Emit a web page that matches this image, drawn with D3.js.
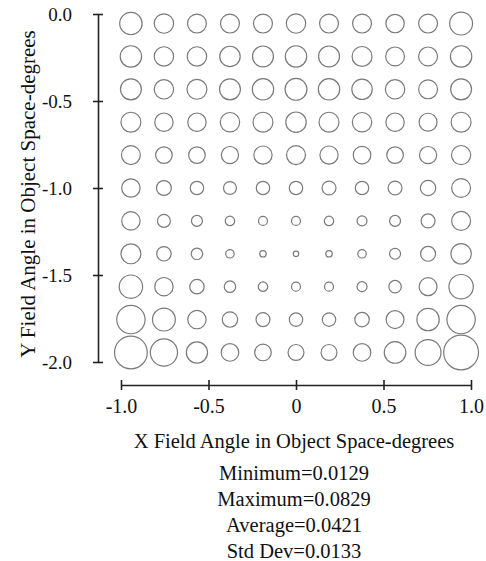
<!DOCTYPE html>
<html>
<head>
<meta charset="utf-8">
<script src="https://cdn.jsdelivr.net/npm/d3@7/dist/d3.min.js"></script>
<style>
  html, body { margin: 0; padding: 0; background: #fff; }
  svg { display: block; }
  text { font-family: "Liberation Serif", "Times New Roman", serif; fill: #111; }
</style>
</head>
<body>
<svg id="chart" width="486" height="561"></svg>
<script>
// Field sample points (degrees in object space)
const xField = [-1.0, -0.8, -0.6, -0.4, -0.2, 0.0, 0.2, 0.4, 0.6, 0.8, 1.0];
const yField = [0.0, -0.2, -0.4, -0.6, -0.8, -1.0, -1.2, -1.4, -1.6, -1.8, -2.0];

// RMS spot radius at each field point, one row per Y field angle
const row0  = [0.0533, 0.0462, 0.0450, 0.0450, 0.0450, 0.0462, 0.0450, 0.0450, 0.0438, 0.0450, 0.0545];
const row1  = [0.0509, 0.0462, 0.0462, 0.0486, 0.0498, 0.0509, 0.0498, 0.0474, 0.0450, 0.0450, 0.0509];
const row2  = [0.0498, 0.0462, 0.0474, 0.0498, 0.0509, 0.0521, 0.0509, 0.0486, 0.0462, 0.0450, 0.0498];
const row3  = [0.0474, 0.0438, 0.0438, 0.0462, 0.0474, 0.0486, 0.0474, 0.0462, 0.0438, 0.0427, 0.0474];
const row4  = [0.0450, 0.0396, 0.0396, 0.0410, 0.0434, 0.0450, 0.0434, 0.0419, 0.0396, 0.0410, 0.0457];
const row5  = [0.0438, 0.0355, 0.0320, 0.0308, 0.0320, 0.0320, 0.0332, 0.0320, 0.0332, 0.0367, 0.0450];
const row6  = [0.0438, 0.0308, 0.0261, 0.0225, 0.0213, 0.0213, 0.0225, 0.0237, 0.0261, 0.0332, 0.0450];
const row7  = [0.0474, 0.0344, 0.0273, 0.0201, 0.0154, 0.0129, 0.0154, 0.0201, 0.0261, 0.0355, 0.0486];
const row8  = [0.0557, 0.0438, 0.0344, 0.0273, 0.0225, 0.0213, 0.0213, 0.0237, 0.0296, 0.0427, 0.0581];
const row9  = [0.0675, 0.0545, 0.0438, 0.0367, 0.0332, 0.0320, 0.0320, 0.0344, 0.0427, 0.0533, 0.0675];
const row10 = [0.0780, 0.0647, 0.0505, 0.0419, 0.0396, 0.0379, 0.0379, 0.0419, 0.0514, 0.0616, 0.0829];
const spotRows = [row0, row1, row2, row3, row4, row5, row6, row7, row8, row9, row10];

// Axis ticks and labels
const xTicks = [-1.0, -0.5, 0, 0.5, 1.0];
const xTickLabels = ["-1.0", "-0.5", "0", "0.5", "1.0"];
const yTicks = [0.0, -0.5, -1.0, -1.5, -2.0];
const yTickLabels = ["0.0", "-0.5", "-1.0", "-1.5", "-2.0"];

// Summary statistics printed under the plot
const statLabels = ["Minimum", "Maximum", "Average", "Std Dev"];
const statValues = ["0.0129", "0.0829", "0.0421", "0.0133"];

const svg = d3.select("#chart");

const x = d3.scaleLinear().domain([-1, 1]).range([121, 471]);
const y = d3.scaleLinear().domain([0, -2]).range([14, 362]);

// Grid cells of the field map sit inside the axis extents
const xCell = d3.scalePoint().domain(xField).range(x.range()).padding(0.3);
const yCell = d3.scalePoint().domain(yField).range(y.range()).padding(0.29);
const r = d3.scaleLinear().domain([0, 0.0829]).range([0, 17.4]);

const cells = [];
spotRows.forEach((row, i) => row.forEach((v, j) => cells.push({ xf: xField[j], yf: yField[i], v })));

svg.append("g")
  .selectAll("circle")
  .data(cells)
  .join("circle")
  .attr("cx", d => xCell(d.xf))
  .attr("cy", d => yCell(d.yf))
  .attr("r", d => r(d.v))
  .attr("fill", "none")
  .attr("stroke", "#7a7a7a")
  .attr("stroke-width", 1.2);

// X axis
const gx = svg.append("g")
  .attr("transform", "translate(0,385)")
  .call(d3.axisBottom(x).tickValues(xTicks).tickFormat((d, i) => xTickLabels[i]).tickSize(0).tickPadding(14));
gx.select(".domain").attr("stroke", "#222").attr("stroke-width", 1.6);
gx.selectAll(".tick line").attr("y1", -5).attr("y2", 5).attr("stroke", "#222").attr("stroke-width", 1.6);
gx.selectAll(".tick text").attr("font-size", 20).attr("font-family", "Liberation Serif").attr("fill", "#111");

// Y axis
const gy = svg.append("g")
  .attr("transform", "translate(98,0)")
  .call(d3.axisLeft(y).tickValues(yTicks).tickFormat((d, i) => yTickLabels[i]).tickSize(0).tickPadding(26));
gy.select(".domain").attr("stroke", "#222").attr("stroke-width", 1.6);
gy.selectAll(".tick line").attr("x1", -5).attr("x2", 5).attr("stroke", "#222").attr("stroke-width", 1.6);
gy.selectAll(".tick text").attr("font-size", 19).attr("font-family", "Liberation Serif").attr("fill", "#111");

// Axis titles
svg.append("text")
  .attr("x", 294).attr("y", 448)
  .attr("text-anchor", "middle")
  .attr("font-size", 20.5)
  .text("X Field Angle in Object Space-degrees");

svg.append("text")
  .attr("transform", "translate(35,194) rotate(-90)")
  .attr("text-anchor", "middle")
  .attr("font-size", 21)
  .text("Y Field Angle in Object Space-degrees");

// Statistics block
svg.append("g")
  .selectAll("text")
  .data(statLabels)
  .join("text")
  .attr("x", 294)
  .attr("y", (d, i) => 480 + i * 26)
  .attr("text-anchor", "middle")
  .attr("font-size", 20.5)
  .text((d, i) => d + "=" + statValues[i]);
</script>
</body>
</html>
